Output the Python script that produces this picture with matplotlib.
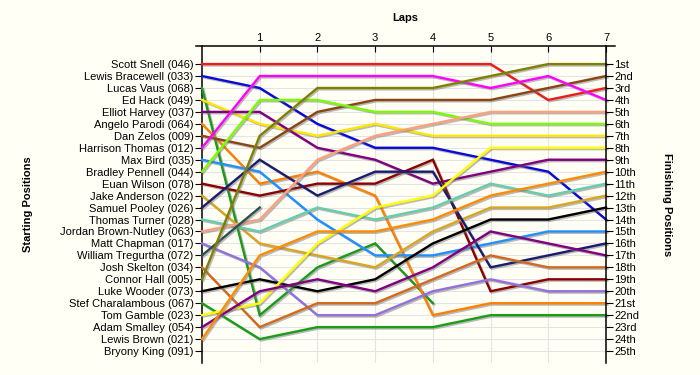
import matplotlib.pyplot as plt
import matplotlib.patheffects as pe

plt.rcParams['font.family'] = ['Liberation Sans', 'DejaVu Sans']

# starting grid (1st to 25th)
drivers = ['Scott Snell (046)', 'Lewis Bracewell (033)', 'Lucas Vaus (068)',
           'Ed Hack (049)', 'Elliot Harvey (037)', 'Angelo Parodi (064)',
           'Dan Zelos (009)', 'Harrison Thomas (012)', 'Max Bird (035)',
           'Bradley Pennell (044)', 'Euan Wilson (078)', 'Jake Anderson (022)',
           'Samuel Pooley (026)', 'Thomas Turner (028)', 'Jordan Brown-Nutley (063)',
           'Matt Chapman (017)', 'William Tregurtha (072)', 'Josh Skelton (034)',
           'Connor Hall (005)', 'Luke Wooder (073)', 'Stef Charalambous (067)',
           'Tom Gamble (023)', 'Adam Smalley (054)', 'Lewis Brown (021)',
           'Bryony King (091)']

finish_labels = ['1st', '2nd', '3rd', '4th', '5th', '6th', '7th', '8th', '9th', '10th',
                 '11th', '12th', '13th', '14th', '15th', '16th', '17th', '18th', '19th',
                 '20th', '21st', '22nd', '23rd', '24th', '25th']

laps = [0, 1, 2, 3, 4, 5, 6, 7]

# position at start, then after each lap (shorter list = retired)
race = [
    [1, 1, 1, 1, 1, 1, 4, 3],
    [2, 3, 6, 8, 8, 9, 10, 14],
    [3, 22, 18, 16, 21],
    [4, 6, 7, 6, 7, 7, 7, 7],
    [5, 5, 8, 9, 11, 10, 9, 9],
    [6, 11, 10, 12, 22, 21, 21, 21],
    [7, 8, 5, 4, 4, 4, 3, 2],
    [8, 2, 2, 2, 2, 3, 2, 4],
    [9, 10, 14, 17, 17, 16, 15, 15],
    [10, 4, 4, 5, 5, 6, 6, 6],
    [11, 12, 11, 11, 9, 20, 19, 19],
    [12, 16, 17, 18, 15, 13, 13, 12],
    [13, 9, 12, 10, 10, 18, 17, 16],
    [14, 15, 13, 14, 13, 11, 12, 11],
    [15, 14, 9, 7, 6, 5, 5, 5],
    [16, 18, 22, 22, 20, 19, 20, 20],
    [17, 13],
    [18, 23, 21, 21, 19, 17, 18, 18],
    [19, 7, 3, 3, 3, 2, 1, 1],
    [20, 19, 20, 19, 16, 14, 14, 13],
    [21, 24, 23, 23, 23, 22, 22, 22],
    [22, 21, 16, 13, 12, 8, 8, 8],
    [23, 20, 19, 20, 18, 15, 16, 17],
    [24, 17, 15, 15, 14, 12, 11, 10],
    [],
]

colors = ['#ee1c1c', '#0a0ad8', '#1a9a1a', '#ffe600', '#800080', '#ff8000',
          '#8b4513', '#ff00ff', '#1e90ff', '#7cfc00', '#8b0000', '#daa520',
          '#1c1c6e', '#66cdaa', '#ffa07a', '#9370db', '#2f4f4f', '#d2691e',
          '#808000', '#000000', '#1a9e1a', '#ffff00', '#800080', '#ff8c00',
          '#999999']

bg = '#fffff6'
fig = plt.figure(figsize=(7, 3.75), dpi=100, facecolor=bg)
ax = fig.add_axes([0.28, 0.032, 0.5986, 0.845])
ax.set_facecolor(bg)

shadow = [pe.SimpleLineShadow(offset=(1, -1), shadow_color='#777777', alpha=0.5), pe.Normal()]
for pos, c in zip(race, colors):
    if len(pos) == 0:
        continue
    ax.plot(laps[:len(pos)], pos, color=c, lw=1.7, path_effects=shadow,
            solid_joinstyle='miter', zorder=3)

ax.set_xlim(-0.104, 7.156)
ax.set_ylim(26.0, -0.5)

# grid
ax.hlines(range(1, 26), 0, 7, color='#e4e4e4', lw=0.8, zorder=1)
ax.vlines(laps[1:7], -0.5, 26.0, color='#e4e4e4', lw=0.8, zorder=1)

ax.spines['bottom'].set_visible(False)
ax.spines['left'].set_position(('data', 0))
ax.spines['right'].set_visible(False)
ax.spines['top'].set_linewidth(1.1)
ax.spines['left'].set_linewidth(1.1)

ax.xaxis.tick_top()
ax.set_xticks(laps[1:])
ax.tick_params(axis='x', direction='in', length=4, width=0.8, labelsize=8, pad=2)
ax.xaxis.set_label_position('top')
ax.set_xlabel('Laps', fontsize=8, fontweight='bold', labelpad=9)

ax.set_yticks(range(1, 26))
ax.set_yticklabels(drivers)
ax.tick_params(axis='y', direction='out', length=5, width=0.8, labelsize=8, pad=1)

ax2 = ax.twinx()
ax2.set_ylim(ax.get_ylim())
ax2.set_yticks(range(1, 26))
ax2.set_yticklabels(finish_labels)
ax2.tick_params(axis='y', direction='out', length=5, width=0.8, labelsize=8, pad=1)
for s in ['top', 'bottom', 'left']:
    ax2.spines[s].set_visible(False)
ax2.spines['right'].set_position(('data', 7))
ax2.spines['right'].set_linewidth(1.1)

fig.text(0.04, 0.455, 'Starting Positions', rotation=90, ha='center', va='center',
         fontsize=8, fontweight='bold')
fig.text(0.953, 0.455, 'Finishing Positions', rotation=270, ha='center', va='center',
         fontsize=8, fontweight='bold')

fig.savefig('out.png', dpi=100, facecolor=bg)
